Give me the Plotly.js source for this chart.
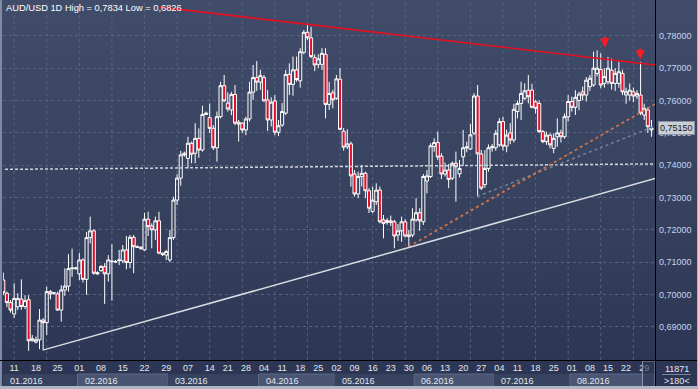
<!DOCTYPE html>
<html><head><meta charset="utf-8">
<script src="https://cdn.plot.ly/plotly-3.0.1.min.js"></script>
<style>
html,body{margin:0;padding:0;background:#2b3553;}
#wrap{position:relative;width:698px;height:389px;overflow:hidden;
 background:linear-gradient(180deg,#414c6a 0%,#37425f 50%,#2b3553 100%);}
#chart{position:absolute;left:0;top:0;width:698px;height:389px;}
.fr{position:absolute;pointer-events:none;}
</style></head><body>
<div id="wrap"><div id="chart"></div>
<div class="fr" style="left:0;top:0;width:2px;height:389px;background:#7f8aa6"></div>
<div class="fr" style="left:0;top:386px;width:698px;height:3px;background:#aeb5c4"></div>
<div class="fr" style="left:697px;top:0;width:1px;height:389px;background:#aeb5c4"></div>
<div class="fr" style="left:655px;top:0;width:1px;height:386px;background:#000"></div>
<div class="fr" style="left:0;top:360px;width:697px;height:1px;background:#000"></div>
</div>
<script>
// ---- data (AUD/USD daily) ----
const symbol = 'AUD/USD';
const timeframe = '1D';
const barsTotal = '11871';
const opens = [
.7045,.7004,.6975,.6940,.6962,.6986,.6963,.6984,.6857,.6853,
.6860,.6921,.6913,.7009,.7004,.7002,.6952,.7014,.7026,.7080,
.7080,.7064,.7107,.7047,.7176,.7197,.7068,.7074,.7086,.7064,
.7102,.7102,.7105,.7104,.7138,.7099,.7177,.7148,.7146,.7138,
.7233,.7212,.7200,.7228,.7128,.7122,.7107,.7176,.7292,.7360,
.7437,.7421,.7468,.7437,.7483,.7447,.7557,.7547,.7514,.7454,
.7550,.7646,.7592,.7571,.7619,.7533,.7530,.7509,.7543,.7626,
.7671,.7657,.7671,.7602,.7540,.7599,.7502,.7524,.7561,.7681,
.7650,.7695,.7661,.7749,.7811,.7794,.7733,.7712,.7712,.7743,
.7588,.7624,.7607,.7666,.7505,.7457,.7466,.7373,.7311,.7365,
.7375,.7321,.7257,.7287,.7323,.7231,.7229,.7228,.7225,.7184,
.7197,.7225,.7184,.7184,.7231,.7253,.7225,.7351,.7365,.7458,
.7470,.7428,.7373,.7385,.7360,.7406,.7373,.7426,.7457,.7450,
.7499,.7614,.7435,.7340,.7390,.7454,.7454,.7463,.7535,.7459,
.7500,.7478,.7566,.7591,.7607,.7632,.7632,.7596,.7591,.7504,
.7473,.7493,.7452,.7488,.7500,.7488,.7550,.7597,.7579,.7600,
.7627,.7617,.7643,.7648,.7684,.7696,.7653,.7658,.7694,.7653,
.7653,.7684,.7617,.7617,.7627,.7614,.7617,.7555,.7571,.7509];
const highs = [
.7068,.7009,.6983,.7035,.7004,.7047,.6998,.6998,.6875,.6870,
.6955,.6927,.7024,.7014,.7008,.7009,.7029,.7081,.7125,.7142,
.7086,.7129,.7112,.7194,.7241,.7202,.7072,.7091,.7097,.7122,
.7156,.7107,.7138,.7153,.7181,.7184,.7184,.7152,.7150,.7253,
.7256,.7220,.7241,.7256,.7129,.7138,.7200,.7302,.7372,.7444,
.7442,.7488,.7473,.7530,.7514,.7584,.7566,.7591,.7524,.7566,
.7658,.7679,.7625,.7627,.7648,.7540,.7533,.7550,.7658,.7710,
.7722,.7695,.7679,.7633,.7610,.7617,.7540,.7592,.7695,.7715,
.7736,.7736,.7762,.7818,.7834,.7828,.7743,.7743,.7762,.7762,
.7658,.7633,.7679,.7700,.7515,.7511,.7473,.7385,.7380,.7401,
.7380,.7329,.7334,.7344,.7334,.7246,.7237,.7244,.7231,.7218,
.7241,.7233,.7200,.7267,.7298,.7267,.7373,.7385,.7468,.7483,
.7504,.7437,.7408,.7404,.7411,.7442,.7416,.7509,.7473,.7528,
.7623,.7648,.7447,.7447,.7464,.7466,.7509,.7546,.7550,.7510,
.7530,.7590,.7600,.7658,.7653,.7679,.7652,.7602,.7600,.7509,
.7504,.7499,.7499,.7545,.7510,.7560,.7617,.7612,.7632,.7627,
.7643,.7673,.7679,.7751,.7755,.7746,.7700,.7735,.7730,.7700,
.7720,.7695,.7640,.7653,.7640,.7632,.7720,.7590,.7580,.7540];
const lows = [
.6998,.6961,.6944,.6927,.6952,.6953,.6955,.6826,.6855,.6849,
.6831,.6829,.6875,.6985,.6999,.6950,.6916,.6996,.7009,.7055,
.7076,.7045,.7037,.6999,.7158,.7061,.7060,.7071,.6971,.7040,
.6981,.7097,.7091,.7097,.7078,.7081,.7066,.7144,.7138,.7136,
.7181,.7143,.7169,.7125,.7119,.7107,.7100,.7169,.7277,.7337,
.7426,.7390,.7406,.7406,.7423,.7442,.7555,.7499,.7447,.7411,
.7545,.7595,.7566,.7555,.7524,.7473,.7499,.7493,.7535,.7602,
.7630,.7633,.7597,.7506,.7520,.7493,.7490,.7519,.7555,.7617,
.7615,.7658,.7640,.7743,.7787,.7731,.7691,.7700,.7695,.7545,
.7571,.7576,.7602,.7509,.7445,.7450,.7334,.7303,.7298,.7334,
.7298,.7252,.7252,.7277,.7220,.7174,.7216,.7212,.7143,.7166,
.7163,.7177,.7146,.7177,.7225,.7197,.7215,.7313,.7360,.7442,
.7416,.7357,.7365,.7329,.7354,.7287,.7362,.7398,.7440,.7447,
.7493,.7303,.7323,.7330,.7380,.7442,.7445,.7457,.7445,.7440,
.7465,.7470,.7545,.7540,.7601,.7591,.7576,.7560,.7500,.7468,
.7463,.7452,.7437,.7457,.7470,.7482,.7535,.7566,.7555,.7570,
.7600,.7597,.7630,.7643,.7675,.7638,.7640,.7650,.7634,.7630,
.7640,.7617,.7590,.7600,.7595,.7605,.7555,.7540,.7500,.7488];
const closes = [
.7006,.6975,.6952,.6988,.6988,.6963,.6981,.6857,.6863,.6860,
.6921,.6913,.7009,.7002,.7005,.6952,.7014,.7026,.7080,.7082,
.7082,.7107,.7047,.7176,.7197,.7066,.7064,.7087,.7064,.7107,
.7103,.7101,.7107,.7138,.7099,.7177,.7148,.7146,.7143,.7233,
.7210,.7200,.7228,.7128,.7124,.7133,.7176,.7292,.7360,.7432,
.7432,.7468,.7434,.7483,.7447,.7557,.7561,.7514,.7454,.7550,
.7646,.7599,.7574,.7619,.7530,.7527,.7509,.7543,.7626,.7671,
.7657,.7677,.7599,.7540,.7595,.7502,.7522,.7566,.7681,.7650,
.7695,.7665,.7751,.7811,.7794,.7736,.7710,.7729,.7746,.7588,
.7622,.7602,.7667,.7511,.7456,.7466,.7367,.7311,.7365,.7375,
.7321,.7267,.7292,.7323,.7225,.7220,.7223,.7223,.7181,.7197,
.7225,.7181,.7180,.7233,.7253,.7228,.7365,.7367,.7460,.7470,
.7425,.7373,.7385,.7356,.7406,.7395,.7390,.7454,.7454,.7494,
.7614,.7435,.7329,.7390,.7454,.7457,.7499,.7535,.7459,.7493,
.7478,.7573,.7591,.7622,.7630,.7612,.7579,.7576,.7504,.7473,
.7493,.7463,.7483,.7500,.7488,.7550,.7597,.7579,.7610,.7620,
.7617,.7663,.7669,.7700,.7700,.7648,.7674,.7700,.7653,.7684,
.7689,.7627,.7627,.7632,.7614,.7622,.7561,.7576,.7519,.7515];

// weekly (Monday) tick labels: bar index and day of month
const dayTickIdx  = [3,9,15,21,27,33,39,45,51,57,62,67,72,77,82,87,92,97,102,107,112,117,122,127,132,137,142,147,152,157,162,167,172,177];
const dayTickText = ['11','18','25','01','08','15','22','29','07','14','21','28','04','11','18','25','02','09','16','23','30','06','13','20','27','04','11','18','25','01','08','15','22','29'];
const monthLabels   = ['01.2016','02.2016','03.2016','04.2016','05.2016','06.2016','07.2016','08.2016'];
const monthStartIdx = [0,21,46,71,92,114,136,157];
const priceTickVals = [0.69,0.70,0.71,0.72,0.73,0.74,0.75,0.76,0.77,0.78];

// analysis lines (bar index, price)
const resistIdx = [43.3,180],  resistPrice = [0.7889,0.7710];
const supportIdx = [10.9,180], supportPrice = [0.6828,0.7359];
const levelIdx = [-0.9,180],   levelPrice = [0.7387,0.7404];
const channelIdx = [111.9,180], channelPrice = [0.7148,0.7589];
const channel2Idx = [130.9,180], channel2Price = [0.7303,0.7521];
const signalIdx = [166.1,175.9], signalPrice = [0.7764,0.7728];

// ---- build ----
const fmt = (v,d) => v.toFixed(d).replace('.', ',');
const idx = closes.map((_,i)=>i);
const N = closes.length;
const lastClose = closes[N-1];
const hi = Math.max(...highs), lo = Math.min(...lows);

const PL = 3, PR = 655, PT = 2, PB = 360;
const px2x = p => (p-PL)/(PR-PL);
const py2y = p => (PB-p)/(PB-PT);
const xRange = [-0.08, 179.98];

const gridCol = '#56627f';
const shapes = [];
for (let k = 3; k < N; k += 9) {
  shapes.push({type:'line', xref:'x', yref:'paper', x0:k, x1:k, y0:0, y1:1,
    line:{color:gridCol, width:1, dash:'3px,3px'}, layer:'below'});
}
// month boxes
monthStartIdx.forEach((s,i)=>{
  const e = (i+1<monthStartIdx.length ? monthStartIdx[i+1] : N) - 0.5;
  const odd = i % 2 === 1;
  shapes.push({type:'rect', xref:'x', yref:'paper', x0:Math.max(s-0.5,xRange[0]), x1:e,
    y0:py2y(387), y1:py2y(374), fillcolor: odd ? '#4a5574' : '#37425f',
    line:{color: odd ? '#5d6986' : 'rgba(0,0,0,0)', width:1}, layer:'below'});
});
// analysis lines
const ln = (xs,ys,color,width,dash) => ({type:'line', xref:'x', yref:'y',
  x0:xs[0], x1:xs[1], y0:ys[0], y1:ys[1], line:{color, width, dash}, layer:'above'});
shapes.push(ln(levelIdx, levelPrice, '#cfd2da', 1.5, '3px,2px'));
shapes.push(ln(channel2Idx, channel2Price, '#76819c', 1.5, 'dot'));
shapes.push(ln(channelIdx, channelPrice, '#d0714a', 1.8, 'dot'));
shapes.push(ln(supportIdx, supportPrice, '#d9dbe2', 1.5, 'solid'));
shapes.push(ln(resistIdx, resistPrice, '#e8101e', 1.6, 'solid'));
// scroller thumb & corner separator
shapes.push({type:'rect', xref:'paper', yref:'paper', x0:px2x(642.5), x1:px2x(655),
  y0:py2y(387), y1:py2y(361), fillcolor:'rgba(44,55,84,0.65)', line:{color:'#8a93a8', width:1}, layer:'above'});
shapes.push({type:'line', xref:'paper', yref:'paper', x0:px2x(662), x1:px2x(691),
  y0:py2y(374.5), y1:py2y(374.5), line:{color:'#7a849c', width:1}});

const txtFont = {family:'Liberation Sans, Arial, sans-serif', size:9, color:'#e2e7f0'};
const annotations = [];
annotations.push({xref:'paper', yref:'paper', x:px2x(4), y:py2y(7.5), xanchor:'left', yanchor:'middle',
  showarrow:false, text:`${symbol} ${timeframe} High = ${fmt(hi,4)} Low = ${fmt(lo,4)}`,
  font:{family:'Liberation Sans, Arial, sans-serif', size:9.3, color:'#ffffff'}});
monthLabels.forEach((m,i)=>{
  annotations.push({xref:'x', yref:'paper', x:Math.max(monthStartIdx[i]-0.5, xRange[0]), y:py2y(380.5),
    xanchor:'left', yanchor:'middle', xshift:5, showarrow:false, text:m, font:txtFont});
});
signalIdx.forEach((s,i)=>{
  annotations.push({xref:'x', yref:'y', x:s, y:signalPrice[i], text:'', showarrow:true,
    arrowhead:2, arrowsize:0.6, arrowwidth:3, arrowcolor:'#ff1a22', ax:0, ay:-12, standoff:0});
});
annotations.push({xref:'paper', yref:'y', x:1, y:lastClose, xanchor:'left', yanchor:'middle', xshift:3,
  showarrow:false, text:fmt(lastClose,5), bgcolor:'#c9cdd4', bordercolor:'#8a909c', borderwidth:1, borderpad:1,
  font:{family:'Liberation Sans, Arial, sans-serif', size:9, color:'#1c1c1c'}});
annotations.push({xref:'paper', yref:'paper', x:px2x(676.5), y:py2y(368.5), xanchor:'center', yanchor:'middle',
  showarrow:false, text:barsTotal, font:txtFont});
annotations.push({xref:'paper', yref:'paper', x:px2x(676.5), y:py2y(381), xanchor:'center', yanchor:'middle',
  showarrow:false, text:'&gt;' + N + '&lt;', font:txtFont});

const traces = [{
  type:'candlestick', x:idx, open:opens, high:highs, low:lows, close:closes,
  increasing:{line:{color:'#ffffff', width:1}, fillcolor:'rgba(0,0,0,0)'},
  decreasing:{line:{color:'#ffffff', width:1}, fillcolor:'#e3102c'},
  whiskerwidth:0, hoverinfo:'skip', showlegend:false
},{
  type:'scatter', mode:'markers', x:[N-1+1.7], y:[lastClose], cliponaxis:false,
  marker:{symbol:'triangle-left', size:7, color:'#c9cdd4'}, hoverinfo:'skip', showlegend:false
}];

const layout = {
  width:698, height:389,
  margin:{l:PL, r:698-PR, t:PT, b:389-PB, pad:0},
  paper_bgcolor:'rgba(0,0,0,0)', plot_bgcolor:'rgba(0,0,0,0)',
  separators:', ', showlegend:false, hovermode:false,
  boxgap:0.15, boxgroupgap:0,
  font:txtFont,
  xaxis:{type:'linear', range:xRange, tickmode:'array', tickvals:dayTickIdx, ticktext:dayTickText,
    showgrid:false, zeroline:false, showline:false, ticks:'', ticklabelstandoff:1,
    tickfont:txtFont, rangeslider:{visible:false}, fixedrange:true},
  yaxis:{side:'right', range:[0.67975,0.79048], tickmode:'array', tickvals:priceTickVals, tickformat:'.5f',
    showgrid:true, gridcolor:gridCol, griddash:'3px,3px', gridwidth:1, zeroline:false, showline:false,
    ticks:'', ticklabelstandoff:3, tickfont:{family:'Liberation Sans, Arial, sans-serif', size:9, color:'#c6d4ee'}, fixedrange:true},
  shapes, annotations
};
Plotly.newPlot('chart', traces, layout, {staticPlot:true, displayModeBar:false});
</script>
</body></html>
